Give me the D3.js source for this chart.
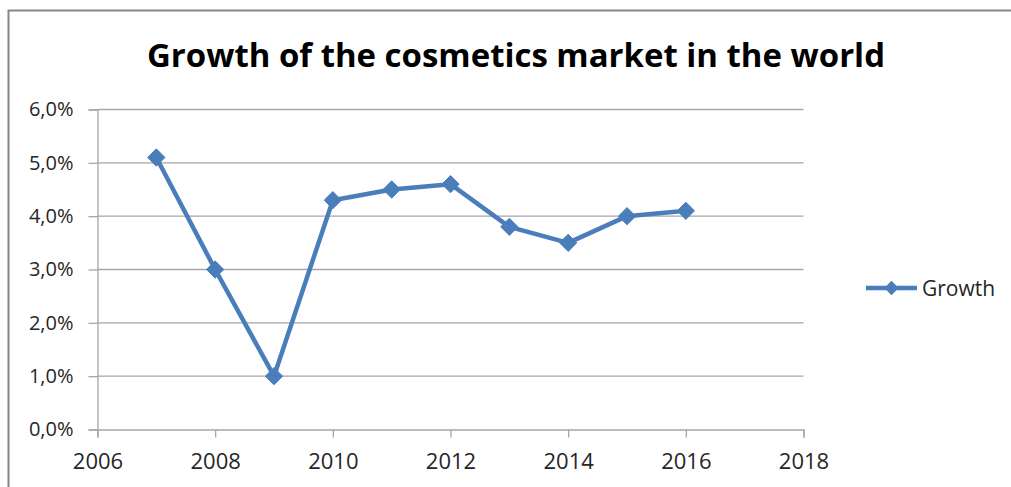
<!DOCTYPE html>
<html>
<head>
<meta charset="utf-8">
<script src="https://cdn.jsdelivr.net/npm/d3@7/dist/d3.min.js"></script>
<style>
  html, body { margin: 0; padding: 0; background: #fff; }
  svg { display: block; }
  text { font-family: "Open Sans", "Noto Sans", sans-serif; }
</style>
</head>
<body>
<svg id="chart" width="1011" height="487"></svg>
<script>
// Annual growth of the world cosmetics market
const years = [2007, 2008, 2009, 2010, 2011, 2012, 2013, 2014, 2015, 2016];
const growth = [5.1, 3.0, 1.0, 4.3, 4.5, 4.6, 3.8, 3.5, 4.0, 4.1];
const xTicks = [2006, 2008, 2010, 2012, 2014, 2016, 2018];
const yTicks = [0, 1, 2, 3, 4, 5, 6];
const seriesName = "Growth";
const title = "Growth of the cosmetics market in the world";

const W = 1011, H = 487;
const svg = d3.select("#chart");
const blue = "#4a7ebb";
const grid = "#a6a6a6";
const font = "'Open Sans', 'Noto Sans', sans-serif";

// outer chart frame
svg.append("rect")
  .attr("x", 8.5).attr("y", 10.5)
  .attr("width", W).attr("height", H)
  .attr("fill", "#fff").attr("stroke", "#868686").attr("stroke-width", 2);

const x = d3.scaleLinear().domain([2006, 2018]).range([97.5, 803.5]);
const y = d3.scaleLinear().domain([0, 6]).range([429.5, 109.5]);

// title
svg.append("text")
  .attr("x", 516).attr("y", 67)
  .attr("text-anchor", "middle")
  .attr("font-size", 32).attr("font-weight", "bold")
  .attr("fill", "#000")
  .attr("textLength", 738).attr("lengthAdjust", "spacingAndGlyphs")
  .text(title);

// horizontal gridlines
svg.append("g").selectAll("line").data(yTicks.filter(d => d > 0)).join("line")
  .attr("x1", x(2006)).attr("x2", x(2018))
  .attr("y1", d => y(d)).attr("y2", d => y(d))
  .attr("stroke", grid).attr("stroke-width", 1.3);

const fmt = d => d.toFixed(1).replace(".", ",") + "%";

// y axis
const yAxis = svg.append("g")
  .attr("transform", `translate(${x(2006)},0)`)
  .call(d3.axisLeft(y).tickValues(yTicks).tickFormat(fmt).tickSize(9).tickPadding(15));
yAxis.select(".domain").attr("stroke", grid).attr("stroke-width", 1.3);
yAxis.selectAll(".tick line").attr("stroke", grid).attr("stroke-width", 1.3);
yAxis.selectAll("text").attr("font-size", 20).attr("fill", "#262626")
  .style("font-family", font);

// x axis
const xAxis = svg.append("g")
  .attr("transform", `translate(0,${y(0)})`)
  .call(d3.axisBottom(x).tickValues(xTicks).tickFormat(d3.format("d")).tickSize(8).tickPadding(16));
xAxis.select(".domain").attr("stroke", grid).attr("stroke-width", 1.3);
xAxis.selectAll(".tick line").attr("stroke", grid).attr("stroke-width", 1.3);
xAxis.selectAll("text").attr("font-size", 22).attr("fill", "#262626")
  .style("font-family", font);

// series line
const pts = years.map((yr, i) => [yr, growth[i]]);
svg.append("path")
  .datum(pts)
  .attr("fill", "none")
  .attr("stroke", blue).attr("stroke-width", 4.5)
  .attr("stroke-linejoin", "round")
  .attr("d", d3.line().x(d => x(d[0])).y(d => y(d[1])));

// diamond markers
const diamond = d3.symbol().type(d3.symbolDiamond2).size(190);
svg.append("g").selectAll("path").data(pts).join("path")
  .attr("transform", d => `translate(${x(d[0])},${y(d[1])})`)
  .attr("d", diamond)
  .attr("fill", blue).attr("stroke", blue).attr("stroke-width", 1);

// legend
const lg = svg.append("g").attr("transform", "translate(866,288)");
lg.append("line").attr("x1", 0).attr("x2", 51).attr("y1", 0).attr("y2", 0)
  .attr("stroke", blue).attr("stroke-width", 4.5);
lg.append("path").attr("transform", "translate(25.5,0)")
  .attr("d", d3.symbol().type(d3.symbolDiamond2).size(130))
  .attr("fill", blue);
lg.append("text").attr("x", 56).attr("y", 7.5)
  .attr("font-size", 21).attr("fill", "#262626")
  .text(seriesName);
</script>
</body>
</html>
